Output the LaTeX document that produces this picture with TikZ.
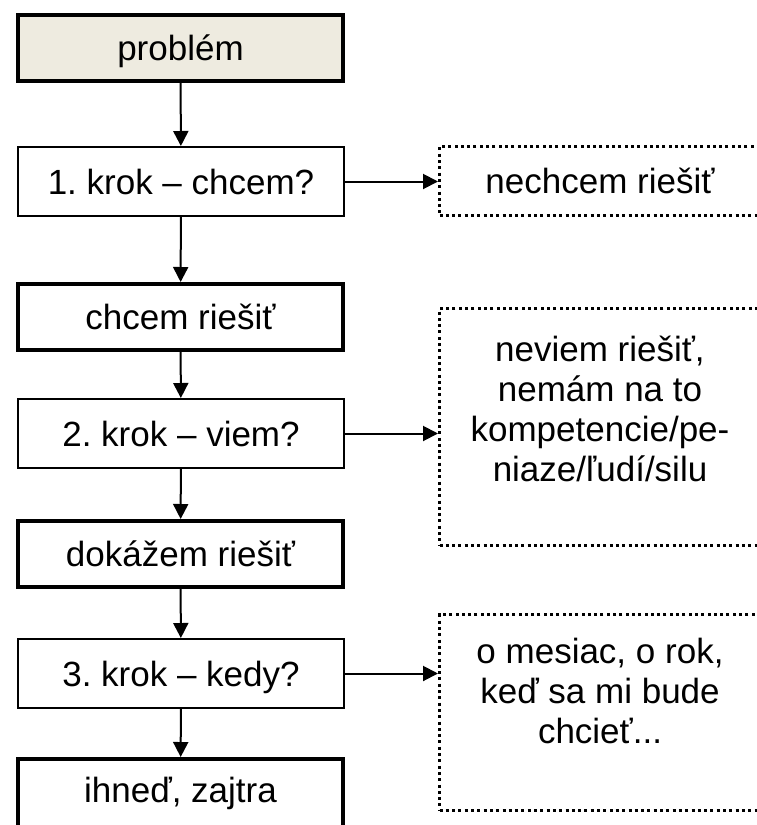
\documentclass[tikz,border=0pt]{standalone}
\usepackage{fontspec}
\setmainfont{Liberation Sans}
\usetikzlibrary{arrows.meta}
\definecolor{probfill}{RGB}{238,235,224}
\frenchspacing
\begin{document}
\begin{tikzpicture}[x=1pt,y=-1pt,
  every node/.style={inner sep=0pt, font=\fontsize{35}{40}\selectfont},
  oneline/.style={text height=33pt, text depth=8pt},
  stepbox/.style={draw, line width=2pt, minimum width=326pt, minimum height=69pt, oneline},
  resultbox/.style={draw, line width=4pt, minimum width=325pt, minimum height=66pt, oneline},
  sidebox/.style={draw, line width=3pt, dash pattern=on 3pt off 3.3pt, minimum width=321pt, oneline},
  sidetext/.style={align=center},
  flow/.style={-{Triangle[length=15pt,width=15pt]}, line width=2pt}]
\useasboundingbox (0,0) rectangle (756,825);

% main column
\node[resultbox, fill=probfill] (p)  at (180.5,48)    {problém};
\node[stepbox]                  (k1) at (181,181.5)   {1. krok – chcem?};
\node[resultbox]                (r1) at (180.5,317)   {chcem riešiť};
\node[stepbox]                  (k2) at (181,433.5)   {2. krok – viem?};
\node[resultbox]                (r2) at (180.5,554)   {dokážem riešiť};
\node[stepbox]                  (k3) at (181,673.5)   {3. krok – kedy?};
\node[resultbox, minimum height=80pt, text depth=26pt]
                                (r3) at (180.5,799)   {ihneď, zajtra};

% side outcomes
\node[sidebox, minimum height=69pt]  (s1) at (600,181)   {nechcem riešiť};
\node[sidebox, minimum height=237pt] (s2) at (600,427)   {};
\node[sidetext] (s2t) at (600,409) {neviem riešiť,\\nemám na to\\kompetencie/pe-\\niaze/ľudí/silu};
\node[sidebox, minimum height=196pt] (s3) at (600,712.5) {};
\node[sidetext] (s3t) at (600,691) {o mesiac, o rok,\\keď sa mi bude\\chcieť...};

% connectors
\draw[flow] (p)  -- (k1);
\draw[flow] (k1) -- (r1);
\draw[flow] (r1) -- (k2);
\draw[flow] (k2) -- (r2);
\draw[flow] (r2) -- (k3);
\draw[flow] (k3) -- (r3);
\draw[flow] (k1.east) -- (k1.east -| s1.west);
\draw[flow] (k2.east) -- (k2.east -| s2.west);
\draw[flow] (k3.east) -- (k3.east -| s3.west);
\end{tikzpicture}
\end{document}
